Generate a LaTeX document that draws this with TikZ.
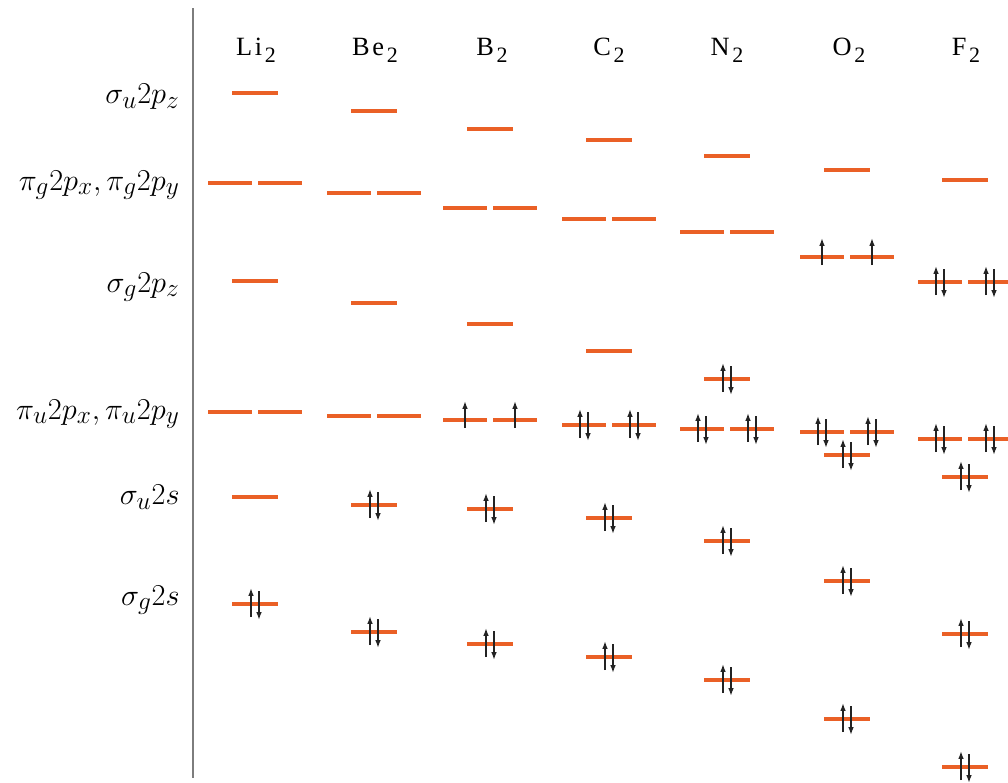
\documentclass[tikz,border=0pt]{standalone}
\usepackage{fontspec}
\setmainfont{Liberation Serif}
\newfontfamily\molfont[LetterSpace=10]{Liberation Serif}
\newcommand{\molsub}{\kern1.5pt\raisebox{-4pt}{\fontsize{12.5}{12.5}\selectfont 2}}
\definecolor{lvlorange}{RGB}{234,96,38}
\definecolor{spingray}{RGB}{35,35,35}
\definecolor{axisgray}{RGB}{125,125,125}
\usetikzlibrary{arrows.meta}

\begin{document}
\begin{tikzpicture}[x=0.02cm, y=-0.02cm,
  level/.style={draw=lvlorange, line width=1.8pt},
  spin/.style={draw=spingray, line width=0.85pt, -{Latex[length=4.5pt,width=3.2pt]}},
  axis/.style={draw=axisgray, line width=1.1pt},
  mol/.style={font=\molfont\fontsize{15}{18}\selectfont, inner sep=0pt},
  orb/.style={font=\fontsize{19}{22}\selectfont, anchor=east, inner sep=0pt},
  lvl/.pic={\draw[level] (-23,0) -- (23,0);},
  lvlpair/.pic={\draw[level] (-47,0) -- (-3,0) (3,0) -- (47,0);},
  eup/.pic={\draw[spin] (0,8) -- (0,-19);},
  epair/.pic={\draw[spin] (-4,13) -- (-4,-16); \draw[spin] (4,-13) -- (4,16);}
]
\useasboundingbox (0,0) rectangle (1008,782);

% Axis
\draw[axis] (193,8) -- (193,778);

% Molecule labels
\node[mol] (li) at (256,50) {Li\molsub};
\node[mol] (be) at (375,50) {Be\molsub};
\node[mol] (b)  at (492,50) {B\molsub};
\node[mol] (c)  at (609,50) {C\molsub};
\node[mol] (n)  at (727,50) {N\molsub};
\node[mol] (o)  at (849,50) {O\molsub};
\node[mol] (f)  at (966,50) {F\molsub};

% Orbital labels
\node[orb] (sigu2pz) at (180,97)  {$\sigma_u 2p_z$};
\node[orb] (pig2p)   at (180,185) {$\pi_g 2p_x,\pi_g 2p_y$};
\node[orb] (sigg2pz) at (180,287) {$\sigma_g 2p_z$};
\node[orb] (piu2p)   at (180,414) {$\pi_u 2p_x,\pi_u 2p_y$};
\node[orb] (sigu2s)  at (180,497) {$\sigma_u 2s$};
\node[orb] (sigg2s)  at (180,600) {$\sigma_g 2s$};

% sigma_u 2p_z
\foreach \x/\y in {255/93, 374/111, 490/129, 609/140, 727/156, 847/170, 965/180}
  \pic at (\x,\y) {lvl};

% pi_g 2p
\foreach \x/\y in {255/183, 374/193, 490/208, 609/219, 727/232, 847/257, 965/282}
  \pic at (\x,\y) {lvlpair};
\foreach \x in {822, 872} \pic at (\x,257) {eup};
\foreach \x in {940, 990} \pic at (\x,282) {epair};

% sigma_g 2p_z
\foreach \x/\y in {255/281, 374/303, 490/324, 609/351, 727/379, 847/455, 965/477}
  \pic at (\x,\y) {lvl};
\foreach \x/\y in {727/379, 847/455, 965/477}
  \pic at (\x,\y) {epair};

% pi_u 2p
\foreach \x/\y in {255/412, 374/416, 490/420, 609/425, 727/429, 847/432, 965/439}
  \pic at (\x,\y) {lvlpair};
\foreach \x in {465, 515} \pic at (\x,420) {eup};
\foreach \x/\y in {584/425, 634/425, 702/429, 752/429, 822/432, 872/432, 940/439, 990/439}
  \pic at (\x,\y) {epair};

% sigma_u 2s
\foreach \x/\y in {255/497, 374/505, 490/509, 609/518, 727/541, 847/581, 965/634}
  \pic at (\x,\y) {lvl};
\foreach \x/\y in {374/505, 490/509, 609/518, 727/541, 847/581, 965/634}
  \pic at (\x,\y) {epair};

% sigma_g 2s
\foreach \x/\y in {255/604, 374/632, 490/644, 609/657, 727/680, 847/719, 965/767}
  \pic at (\x,\y) {lvl};
\foreach \x/\y in {255/604, 374/632, 490/644, 609/657, 727/680, 847/719, 965/767}
  \pic at (\x,\y) {epair};
\end{tikzpicture}
\end{document}
